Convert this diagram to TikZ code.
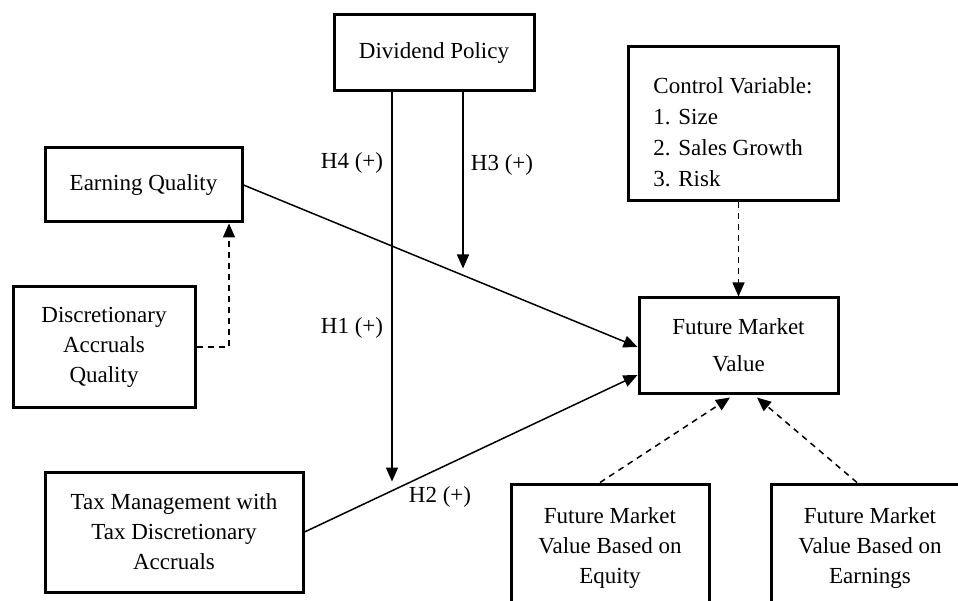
\documentclass[tikz,border=0pt]{standalone}
\usepackage{fontspec}
\setmainfont{Liberation Serif}
\usetikzlibrary{arrows.meta,calc}
\tikzset{
  box/.style={draw=black, line width=3pt, fill=white, align=center, inner sep=0pt,
    font=\fontsize{23}{30}\selectfont},
  conn/.style={line width=1.5pt, -{Triangle[length=14pt,width=12pt]}},
  dconn/.style={line width=1.5pt, dash pattern=on 6pt off 5pt, -{Triangle[length=14pt,width=12pt]}},
  lbl/.style={font=\fontsize{23}{30}\selectfont, inner sep=0pt}
}
\begin{document}
\begin{tikzpicture}[x=1pt,y=-1pt]
\useasboundingbox (0,0) rectangle (958,601);
\clip (0,0) rectangle (958,601);
\fill[white] (0,0) rectangle (958,601);

\node[box, minimum width=200pt, minimum height=76pt] (div) at (434,53) {Dividend Policy};
\node[box, minimum width=197pt, minimum height=74pt] (eq) at (143.5,185) {Earning Quality};
\node[box, minimum width=182pt, minimum height=120pt] (daq) at (104,347) {Discretionary\\Accruals\\Quality};
\node[box, minimum width=210pt, minimum height=154pt, align=left, font=\fontsize{23}{31}\selectfont] (ctrl) at (733,124) {\rule{0pt}{32pt}Control Variable:\\1. Size\\2. Sales Growth\\3. Risk};
\node[box, minimum width=199pt, minimum height=95pt, font=\fontsize{23}{37}\selectfont] (fmv) at (738.5,345.5) {Future Market\\Value};
\node[box, minimum width=258pt, minimum height=120pt] (tax) at (174,532) {Tax Management with\\Tax Discretionary\\Accruals};
\node[box, minimum width=198pt, minimum height=128pt] (fmve) at (610,548) {Future Market\\Value Based on\\Equity};
\node[box, minimum width=198pt, minimum height=128pt] (fmvr) at (870,548) {Future Market\\Value Based on\\Earnings};

% coordinates for connector ends
\coordinate (h4s) at ([xshift=-42pt]div.south);
\coordinate (h4e) at ($(h4s)+(0,389)$);
\coordinate (h3s) at ([xshift=29pt]div.south);
\coordinate (h3e) at ($(h3s)+(0,176)$);
\coordinate (eqin) at ([yshift=-1.5pt]fmv.west);
\coordinate (taxin) at ([yshift=-29.5pt]fmv.west);
\coordinate (eqbot) at ([xshift=85.5pt]eq.south);
\coordinate (fmveo) at ([xshift=-10pt]fmve.north);
\coordinate (fmvro) at ([xshift=-13pt]fmvr.north);
\coordinate (fmvbl) at ([xshift=-8.5pt,yshift=-3pt]fmv.south);
\coordinate (fmvbr) at ([xshift=18.5pt,yshift=-3pt]fmv.south);

\draw[conn] (eq.east) -- (eqin);
\draw[conn] (tax.east) -- (taxin);
\draw[conn] (h4s) -- (h4e);
\draw[conn] (h3s) -- (h3e);
\draw[dconn] (ctrl.south -| fmv.north) -- (fmv.north);
\draw[dconn] (daq.east) -| (eqbot);
\draw[dconn] (fmveo) -- (fmvbl);
\draw[dconn] (fmvro) -- (fmvbr);

\node[lbl] (l4) at (352,163) {H4 (+)};
\node[lbl] (l3) at (502,165) {H3 (+)};
\node[lbl] (l1) at (352,328) {H1 (+)};
\node[lbl] (l2) at (440,497) {H2 (+)};
\end{tikzpicture}
\end{document}
